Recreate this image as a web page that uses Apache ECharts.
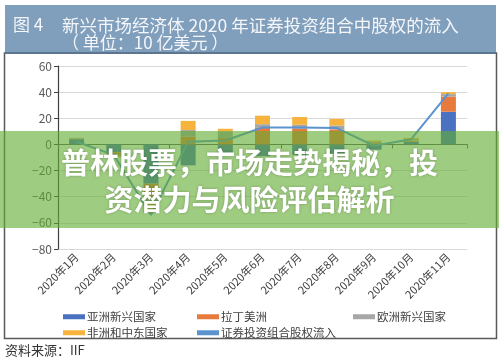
<!DOCTYPE html>
<html><head><meta charset="utf-8">
<script src="https://cdn.jsdelivr.net/npm/echarts@6/dist/echarts.min.js"></script>
<style>html,body{margin:0;padding:0;background:#fff}#c{width:499px;height:360px}</style>
</head><body><div id="c"></div>
<script>
const categories = ['2020年1月','2020年2月','2020年3月','2020年4月','2020年5月','2020年6月','2020年7月','2020年8月','2020年9月','2020年10月','2020年11月'];
const asia    = [4, -6, -30, -16, -8, -9, -8, -7, -4, 2, 25];
const latam   = [0.5, -2, -10, 6, 5, 12.7, 12, 11.5, 1, 1, 11.5];
const europe  = [0.5, -1, -4, 5, 5, 2.8, 3, 3, 1, 1, 2];
const africa  = [0, -1, -8, 7, 2, 6.5, 6, 5, 1, 1, 1.5];
const flows   = [2, -8, -54, 2, 3, 13, 13, 12.5, -1, 4, 39];
const yTicks  = {min: -80, max: 60, interval: 20};
const names   = ['亚洲新兴国家','拉丁美洲','欧洲新兴国家','非洲和中东国家','证券投资组合股权流入'];
const colors  = ['#4a72c0','#e97a3e','#a6a6a6','#f6b43f','#5b93cf'];

const FONT = '"Noto Sans CJK SC", "Noto Sans", sans-serif';
const chart = echarts.init(document.getElementById('c'), null, {renderer:'canvas'});
function bar(i, data){
  return {name: names[i], type:'bar', stack:'s', data, barWidth:15, itemStyle:{color:colors[i]}, xAxisIndex:0};
}
function leg(i, left, top){
  return {data:[names[i]], left, top, icon:'rect', itemWidth:22, itemHeight:5, itemGap:0,
    textStyle:{fontSize:11.5, color:'#404040', fontFamily:FONT, padding:[0,0,0,-3]}, selectedMode:false};
}
chart.setOption({
  animation:false,
  textStyle:{fontFamily:FONT},
  grid:{left:58, right:32, top:66, bottom:111, containLabel:false},
  xAxis:[
    {type:'category', data:categories, position:'bottom',
     axisLine:{onZero:true, lineStyle:{color:'#595959', width:1.2}},
     axisTick:{show:true, length:4, lineStyle:{color:'#595959'}},
     axisLabel:{show:false}, splitLine:{show:false}},
    {type:'category', data:categories, position:'bottom',
     axisLine:{show:false, onZero:false}, axisTick:{show:false},
     axisLabel:{rotate:45, fontSize:11, color:'#404040', margin:6, fontFamily:FONT, interval:0}}
  ],
  yAxis:{type:'value', min:yTicks.min, max:yTicks.max, interval:yTicks.interval,
    axisLine:{show:true, lineStyle:{color:'#404040', width:1.2}},
    axisTick:{show:true, length:4, lineStyle:{color:'#404040'}},
    axisLabel:{fontSize:12, color:'#595959', margin:6, formatter:v=>String(v).replace('-','−')},
    splitLine:{lineStyle:{color:'#d9d9d9', width:1}}},
  legend:[leg(0,58,306), leg(1,192,306), leg(2,348,306), leg(3,58,322), leg(4,192,322)],
  series:[
    bar(0, asia), bar(1, latam), bar(2, europe), bar(3, africa),
    {name:names[4], type:'line', data:flows, symbol:'none', lineStyle:{color:colors[4], width:2}, itemStyle:{color:colors[4]}, z:5}
  ],
  graphic:[
    {type:'rect', shape:{x:4.5, y:53, width:492, height:285.5}, style:{fill:'none', stroke:'#5a5a5a', lineWidth:1.5}, z:1},
    {type:'rect', shape:{x:5, y:5, width:491, height:48}, style:{fill:'#809fbd'}, z:2},
    {type:'rect', shape:{x:5, y:52, width:491, height:2}, style:{fill:'#5d7690'}, z:2},
    {type:'text', x:13, y:25, style:{text:'图 4', fill:'#f4f6f9', fontSize:17, fontFamily:FONT, textVerticalAlign:'middle'}, z:3},
    {type:'text', x:62, y:25, style:{text:'新兴市场经济体 2020 年证券投资组合中股权的流入', fill:'#f4f6f9', fontSize:17.5, fontFamily:FONT, textVerticalAlign:'middle'}, z:3},
    {type:'text', x:62, y:43, style:{text:'（ 单位：10 亿美元 ）', fill:'#f4f6f9', fontSize:17, fontFamily:FONT, textVerticalAlign:'middle'}, z:3},
    {type:'text', x:5, y:350, style:{text:'资料来源：IIF', fill:'#333', fontSize:13, fontFamily:FONT, textVerticalAlign:'middle'}, z:3},
    {type:'rect', shape:{x:0, y:131, width:499, height:97}, style:{fill:'rgba(98,172,50,0.62)'}, z:100},
    {type:'text', x:249.5, y:163, style:{text:'普林股票，市场走势揭秘，投', fill:'#fff', fontSize:29, fontWeight:'bold', fontFamily:FONT, textAlign:'center', textVerticalAlign:'middle', textShadowColor:'rgba(0,0,0,0.25)', textShadowBlur:3}, z:101},
    {type:'text', x:249.5, y:200, style:{text:'资潜力与风险评估解析', fill:'#fff', fontSize:29, fontWeight:'bold', fontFamily:FONT, textAlign:'center', textVerticalAlign:'middle', textShadowColor:'rgba(0,0,0,0.25)', textShadowBlur:3}, z:101}
  ]
});
</script></body></html>
